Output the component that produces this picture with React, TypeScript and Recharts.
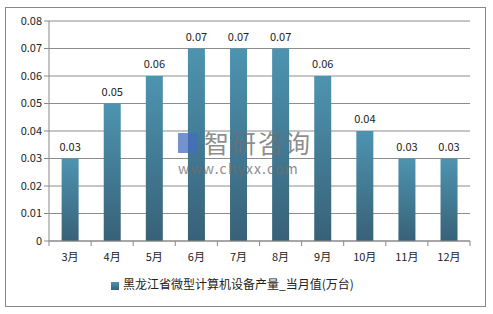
import { BarChart, Bar, XAxis, YAxis, CartesianGrid, Legend, LabelList } from "recharts";

const months = ["3月", "4月", "5月", "6月", "7月", "8月", "9月", "10月", "11月", "12月"];
const output = [0.03, 0.05, 0.06, 0.07, 0.07, 0.07, 0.06, 0.04, 0.03, 0.03];
const yTicks = [0, 0.01, 0.02, 0.03, 0.04, 0.05, 0.06, 0.07, 0.08];
const seriesName = "黑龙江省微型计算机设备产量_当月值(万台)";

const data = months.map((m, i) => ({ month: m, value: output[i] }));

const font = "'Noto Sans CJK SC', 'DejaVu Sans', sans-serif";
const band = (470 - 49) / months.length;

const MonthTick = (props: any) => {
    const { x, y, payload, index } = props;
    return (
        <g>
            <line x1={x - band / 2} y1={y - 8} x2={x - band / 2} y2={y - 3} stroke="#888" />
            {index === months.length - 1 && (
                <line x1={x + band / 2} y1={y - 8} x2={x + band / 2} y2={y - 3} stroke="#888" />
            )}
            <text x={x} y={y + 12} textAnchor="middle" fontSize={11} fill="#222" fontFamily={font}>
                {payload.value}
            </text>
        </g>
    );
};

export default function App() {
    return (
        <div style={{ position: "absolute", left: 0, top: 0, width: 493, height: 314, background: "#fff" }}>
            <div style={{ position: "absolute", left: 5, top: 7, width: 479, height: 298, border: "1px solid #888" }} />
            <BarChart
                width={493}
                height={314}
                data={data}
                margin={{ top: 21, right: 23, bottom: 0, left: 5 }}
                barCategoryGap="30%"
                style={{ position: "absolute", left: 0, top: 0 }}
            >
                <defs>
                    <linearGradient id="barFill" x1="0" y1="0" x2="0" y2="1">
                        <stop offset="0%" stopColor="#4d94b0" />
                        <stop offset="100%" stopColor="#386178" />
                    </linearGradient>
                </defs>
                <CartesianGrid vertical={false} stroke="#8c8c8c" />
                <XAxis
                    dataKey="month"
                    axisLine={{ stroke: "#888" }}
                    tickLine={false}
                    tick={<MonthTick />}
                    height={34}
                    interval={0}
                />
                <YAxis
                    ticks={yTicks}
                    domain={[0, 0.08]}
                    width={44}
                    axisLine={{ stroke: "#888" }}
                    tickLine={{ stroke: "#888" }}
                    tickSize={5}
                    tick={{ fontSize: 11, fill: "#222", fontFamily: font }}
                />
                <Legend
                    verticalAlign="bottom"
                    iconType="square"
                    iconSize={8}
                    wrapperStyle={{ fontSize: 12, fontFamily: font, color: "#222", paddingBottom: 22 }}
                    formatter={(v: string) => <span style={{ color: "#222" }}>{v}</span>}
                />
                <Bar
                    dataKey="value"
                    name={seriesName}
                    fill="url(#barFill)"
                    legendType="square"
                    isAnimationActive={false}
                >
                    <LabelList dataKey="value" position="top" offset={8} fontSize={11} fill="#222" fontFamily={font} />
                </Bar>
            </BarChart>
            <div style={{ position: "absolute", left: 178, top: 130, width: 140, fontFamily: font, color: "rgba(110,110,110,0.8)", lineHeight: 1, pointerEvents: "none" }}>
                <div style={{ display: "flex", alignItems: "center" }}>
                    <div style={{ width: 20, height: 20, background: "rgba(70,110,190,0.75)", marginRight: 6 }} />
                    <div style={{ fontSize: 25, letterSpacing: 2 }}>智研咨询</div>
                </div>
                <div style={{ fontSize: 14, letterSpacing: 1.2, marginTop: 6 }}>www.chyxx.com</div>
            </div>
        </div>
    );
}
